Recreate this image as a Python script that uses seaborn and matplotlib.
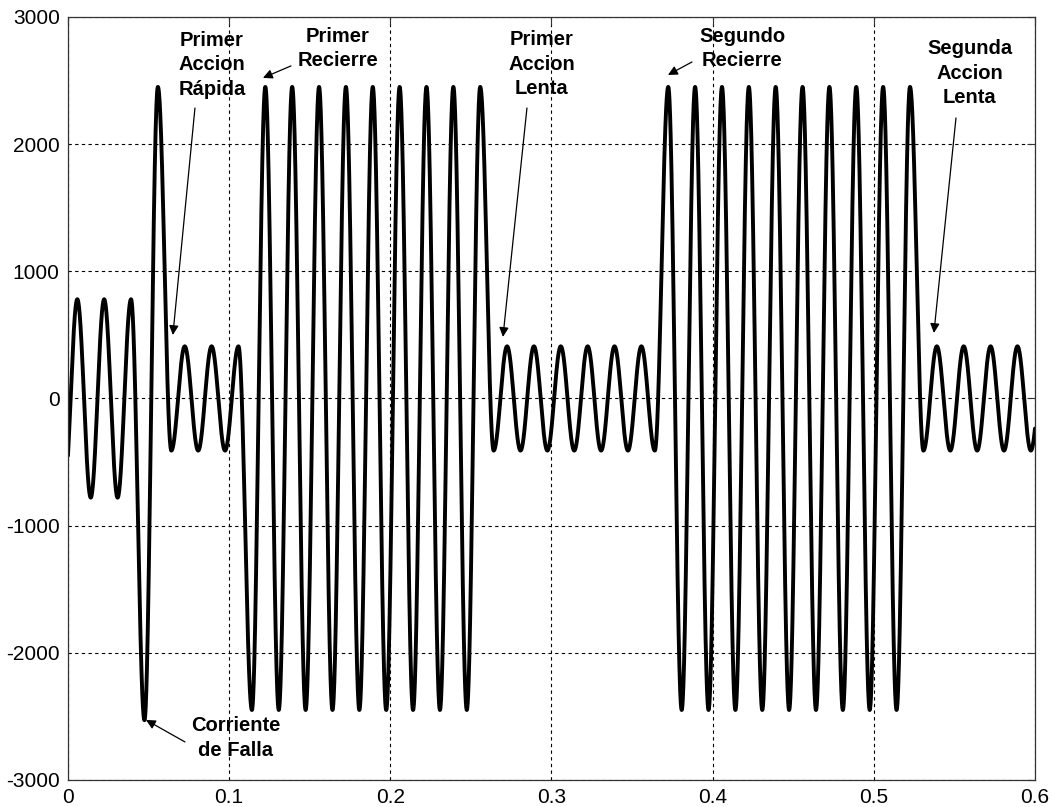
import numpy as np
import pandas as pd
import matplotlib
matplotlib.use("Agg")
import matplotlib.pyplot as plt
import seaborn as sns

# Recloser operating sequence: 60 Hz line current.
# Each state lasts a number of half cycles and has its own peak magnitude (A).
freq_hz = 60.0
first_peak_s = 0.0058
state_names = ["Pre-falla", "Falla (semiciclo negativo)", "Falla (semiciclo positivo)",
               "Primer Accion Rápida", "Primer Recierre", "Primer Accion Lenta",
               "Segundo Recierre", "Segunda Accion Lenta"]
state_half_cycles = [6, 1, 1, 6, 18, 13, 19, 10]
state_peak_amps = [780, 2530, 2450, 410, 2450, 410, 2450, 410]

x_ticks = [0, 0.1, 0.2, 0.3, 0.4, 0.5, 0.6]
x_tick_labels = ["0", "0.1", "0.2", "0.3", "0.4", "0.5", "0.6"]
y_ticks = [-3000, -2000, -1000, 0, 1000, 2000, 3000]
y_tick_labels = ["-3000", "-2000", "-1000", "0", "1000", "2000", "3000"]

# Annotation texts: (lines, text x, first line y, arrow tail, arrow head)
notes = [
    (["Primer", "Accion", "Rápida"], 0.0893, 2815, (0.0788, 2284), (0.0651, 499)),
    (["Primer", "Recierre"], 0.1675, 2850, (0.1384, 2615), (0.1210, 2521)),
    (["Primer", "Accion", "Lenta"], 0.2940, 2820, (0.2848, 2284), (0.2699, 484)),
    (["Segundo", "Recierre"], 0.4185, 2850, (0.3872, 2646), (0.3723, 2544)),
    (["Segunda", "Accion", "Lenta"], 0.5595, 2750, (0.5510, 2206), (0.5373, 515)),
    (["Corriente", "de Falla"], 0.1042, -2575, (0.0726, -2701), (0.0484, -2528)),
]

# --- build the waveform: sinusoidal half cycles joining successive peaks ---
peaks = np.repeat(state_peak_amps, state_half_cycles).astype(float)
signs = np.where(np.arange(len(peaks)) % 2 == 0, -1.0, 1.0)
extremes = peaks * signs
half_period = 0.5 / freq_hz
t_ext = first_peak_s + (np.arange(len(extremes)) - 1) * half_period

t = np.linspace(0.0, 0.6, 4801)
j = np.clip(np.searchsorted(t_ext, t, side="right") - 1, 0, len(extremes) - 2)
frac = (t - t_ext[j]) / half_period
a, b = extremes[j], extremes[j + 1]
current = (a + b) / 2 + (a - b) / 2 * np.cos(np.pi * frac)
df = pd.DataFrame({"t": t, "i": current})

# --- figure ---
sns.set_style("white")
plt.rcParams["font.family"] = ["Liberation Sans", "DejaVu Sans"]

fig = plt.figure(figsize=(10.52, 8.07), dpi=100)
ax = fig.add_axes([0.0646, 0.0335, 0.9192, 0.9455])

sns.lineplot(data=df, x="t", y="i", ax=ax, color="black", linewidth=2.8,
             estimator=None, sort=False)

ax.set_xlim(0, 0.6)
ax.set_ylim(-3000, 3000)
ax.set_xticks(x_ticks)
ax.set_xticklabels(x_tick_labels)
ax.set_yticks(y_ticks)
ax.set_yticklabels(y_tick_labels)
ax.set_xlabel("")
ax.set_ylabel("")

ax.grid(True, color="black", linestyle=(0, (3, 3)), linewidth=0.8)
ax.set_axisbelow(True)
for s in ax.spines.values():
    s.set_visible(True)
    s.set_color("#333333")
    s.set_linewidth(0.9)

ax.tick_params(axis="both", direction="in", length=6, width=0.8, color="#333333",
               top=True, right=True, labelsize=15, labelcolor="black", pad=6)

for lines, tx, ty, tail, head in notes:
    for n, line in enumerate(lines):
        ax.text(tx, ty - n * 192, line, ha="center", va="center",
                fontsize=14.5, fontweight="bold", color="black", zorder=5)
    ax.annotate("", xy=head, xytext=tail,
                arrowprops=dict(arrowstyle="-|>", color="black", lw=0.9,
                                mutation_scale=14, shrinkA=0, shrinkB=0),
                zorder=5)

fig.savefig("out.png", dpi=100, facecolor="white")
